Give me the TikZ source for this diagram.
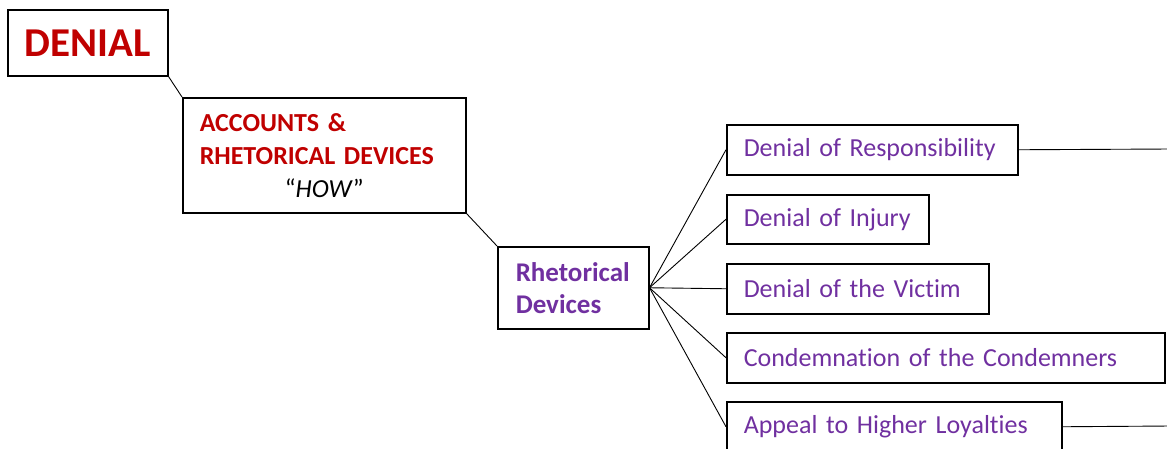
\documentclass[tikz,border=0pt]{standalone}
\usepackage{fontspec}
\setmainfont{Carlito}[Ligatures={TeX,NoCommon}]
\usetikzlibrary{positioning}
\definecolor{denialred}{RGB}{192, 0, 0}
\definecolor{devicepurple}{RGB}{112, 48, 160}

\begin{document}
\begin{tikzpicture}[
    x=1pt, y=-1pt,
    box/.style={rectangle, draw, line width=1.5pt, anchor=north west, inner sep=0pt},
    item/.style={box, minimum height=50pt, inner xsep=17pt, align=left, text=devicepurple, font=\fontsize{26}{31}\selectfont},
    link/.style={line width=0.9pt}
]
\useasboundingbox (0,0) rectangle (1167,448);

% Top level
\node[box, minimum width=160pt, minimum height=66pt, text=denialred,
      font=\fontsize{41}{49}\selectfont\bfseries] (denial) at (7,9) {DENIAL};

% Accounts
\node[box, minimum width=283pt, minimum height=115pt, inner xsep=17pt, text width=249pt, align=left,
      font=\fontsize{26}{33}\selectfont] (accounts) at (182,97) {
    \textcolor{denialred}{\bfseries ACCOUNTS \&}\\
    \textcolor{denialred}{\bfseries RHETORICAL DEVICES}\\
    \makebox[249pt]{``\textit{HOW}''}
};

% Rhetorical devices
\node[box, minimum width=151pt, minimum height=82pt, inner xsep=18pt, text width=115pt, align=left,
      text=devicepurple, font=\fontsize{27}{32}\selectfont\bfseries] (rhet) at (497,246) {Rhetorical\\Devices};

% Devices
\node[item, text width=257pt] (resp) at (726,124) {Denial of Responsibility};
\node[item, text width=168pt, minimum height=49pt] (injury) at (726,194) {Denial of Injury};
\node[item, text width=228pt] (victim) at (726,263) {Denial of the Victim};
\node[item, text width=404pt] (condemn) at (726,332) {Condemnation of the Condemners};
\node[item, text width=301pt] (appeal) at (726,401) {Appeal to Higher Loyalties};

% Loose ends
\coordinate (respend) at (1170,149);
\coordinate (appealend) at (1170,426);

% Connectors
\draw[link] (denial.south east) -- (accounts.north west);
\draw[link] (accounts.south east) -- (rhet.north west);
\foreach \n in {resp, injury, victim, condemn, appeal}
    \draw[link] (rhet.east) -- (\n.west);
\draw[link] (resp.east) -- (respend);
\draw[link] (appeal.east) -- (appealend);

\end{tikzpicture}
\end{document}
